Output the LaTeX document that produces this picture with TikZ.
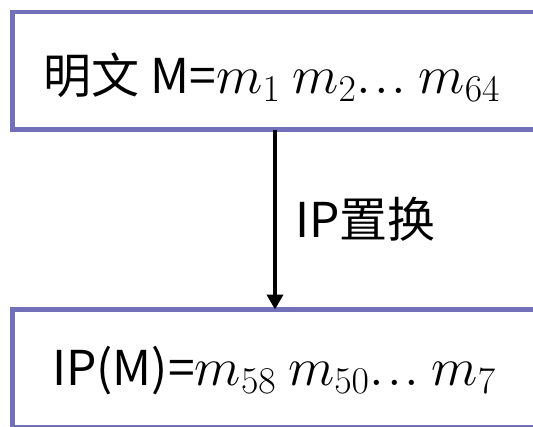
\RequirePackage{fix-cm}
\documentclass[tikz,border=0pt]{standalone}
\usepackage{fontspec}
\setmainfont{Noto Sans CJK SC}
\usetikzlibrary{arrows.meta}
\definecolor{boxc}{RGB}{114,112,184}
\newcommand{\mymath}[1]{{\fontsize{54}{60}\selectfont$#1$}}
\newcommand{\mydots}{\mathord{.}\mkern1mu\mathord{.}\mkern1mu\mathord{.}}
\begin{document}
\begin{tikzpicture}[x=1pt,y=-1pt,
  box/.style={draw=boxc,line width=4.5pt,minimum width=522.5pt,minimum height=117.5pt,inner sep=0pt,outer sep=0pt},
  txt/.style={font=\fontsize{48}{58}\selectfont,inner sep=0pt},
  arr/.style={line width=4pt,-{Triangle[width=16pt,length=15pt]}}]
\useasboundingbox (0,0) rectangle (533,426);
\clip (0,0) rectangle (533,426);
\node[box] (top) at (273.75,70.75) {};
\node[box] (bot) at (273.75,368.25) {};
\node[txt,anchor=base] (toptext) at (272,93) {明文 M=\mymath{m_1}\hspace{0.25em}\mymath{m_2\mydots}\hspace{0.25em}\mymath{m_{64}}};
\node[txt,anchor=base] (bottext) at (274,385) {IP(M)=\mymath{m_{58}}\hspace{0.25em}\mymath{m_{50}\mydots}\hspace{0.25em}\mymath{m_7}};
\draw[arr] ([xshift=1.25pt]top.south) -- ([xshift=1.25pt]bot.north);
\node[txt,anchor=base west] (lbl) at (295,237) {IP置换};
\end{tikzpicture}
\end{document}
